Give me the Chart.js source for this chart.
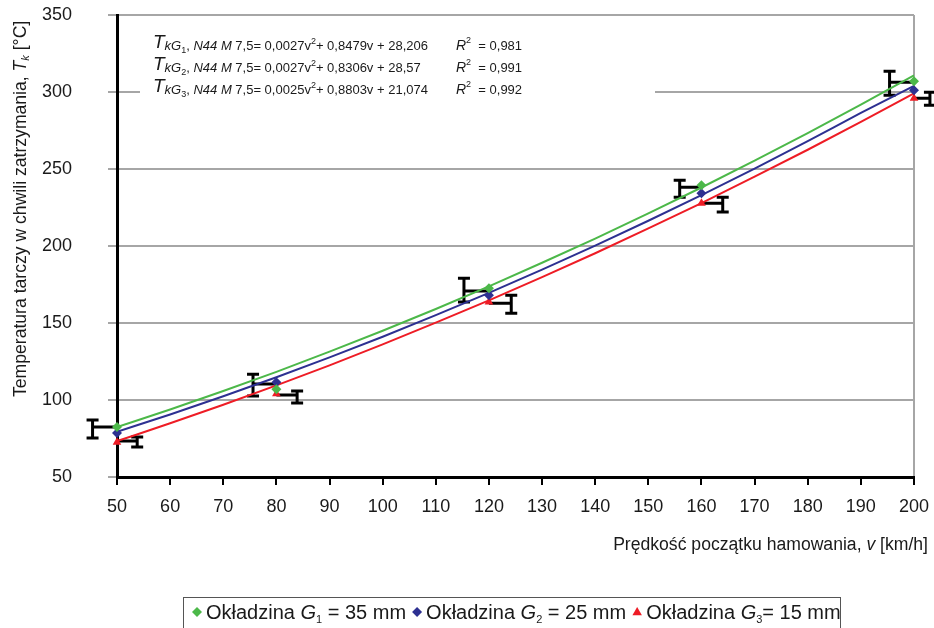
<!DOCTYPE html>
<html>
<head>
<meta charset="utf-8">
<script src="https://cdn.jsdelivr.net/npm/chart.js@4"></script>
<style>
  html, body { margin: 0; padding: 0; background: #fff; }
  #wrap { width: 934px; height: 628px; }
</style>
</head>
<body>
<div id="wrap"><canvas id="chart" width="934" height="628"></canvas></div>
<script>
// measured points (km/h -> °C)
const speeds = [50, 80, 120, 160, 200];
const tempG1 = [82.4, 107, 172.6, 239.5, 307];
const tempG2 = [78.6, 111.5, 168.1, 234.3, 301.2];
const tempG3 = [72.5, 104, 163.6, 227.8, 296];

// trend lines
const trendV = [50, 60, 70, 80, 90, 100, 110, 120, 130, 140, 150, 160, 170, 180, 190, 200];
const trendG1 = [82.4, 93.8, 105.8, 118.3, 131.4, 145.0, 159.1, 173.8, 189.1, 204.8, 221.2, 238.0, 255.4, 273.3, 291.8, 310.8];
const trendG2 = [79.4, 90.6, 102.4, 114.8, 127.7, 141.1, 155.1, 169.6, 184.7, 200.3, 216.4, 233.1, 250.3, 268.1, 286.4, 304.0];
const trendG3 = [73.3, 84.9, 96.9, 109.5, 122.5, 136.1, 150.2, 164.7, 179.8, 195.3, 211.4, 227.9, 245.0, 262.5, 280.6, 299.1];

// error bars: whisker to the left and to the right of each speed
const errLeftX = [45.4, 75.6, 115.3, 155.9, 195.4];
const errLeftY = [82.4, 110.4, 170.7, 238.2, 306.3];
const errLeftLow = [75.3, 102.6, 163.6, 231.7, 297.9];
const errLeftHigh = [87, 116.8, 179.1, 242.7, 313.5];
const errRightX = [53.8, 83.9, 124.2, 164, 203];
const errRightY = [73.4, 103.2, 162.9, 227.8, 296];
const errRightLow = [69.5, 98, 156.4, 222, 291.4];
const errRightHigh = [76, 105.8, 168.1, 231.7, 299.8];

// axis ticks
const speedTicks = [50, 60, 70, 80, 90, 100, 110, 120, 130, 140, 150, 160, 170, 180, 190, 200];
const tempTicks = [50, 100, 150, 200, 250, 300, 350];

// trend equations
const eqA = ['0,0027', '0,0027', '0,0025'];
const eqB = ['0,8479', '0,8306', '0,8803'];
const eqC = ['28,206', '28,57', '21,074'];
const eqR2 = ['0,981', '0,991', '0,992'];

const seriesNames = ['Okładzina G1 = 35 mm', 'Okładzina G2 = 25 mm', 'Okładzina G3 = 15 mm'];
const seriesThick = ['35', '25', '15'];

const GREEN = '#4cb849';
const BLUE = '#2d3091';
const RED = '#ee1c25';
const FONT = '"Liberation Sans", Arial, Helvetica, sans-serif';

function pts(xs, ys) {
  return xs.map((v, i) => ({ x: v, y: ys[i] }));
}

// draws a list of text pieces one after another
function richText(ctx, runs, x, y) {
  runs.forEach(r => {
    ctx.font = (r.i ? 'italic ' : '') + r.s + 'px ' + FONT;
    ctx.fillText(r.t, x, y + (r.dy || 0));
    x += ctx.measureText(r.t).width;
  });
  return x;
}
function runsWidth(ctx, runs) {
  let w = 0;
  runs.forEach(r => {
    ctx.font = (r.i ? 'italic ' : '') + r.s + 'px ' + FONT;
    w += ctx.measureText(r.t).width;
  });
  return w;
}

function marker(ctx, kind, color, x, y, r) {
  ctx.fillStyle = color;
  ctx.beginPath();
  if (kind === 'tri') {
    ctx.moveTo(x, y - r);
    ctx.lineTo(x + r * 0.95, y + r * 0.65);
    ctx.lineTo(x - r * 0.95, y + r * 0.65);
  } else {
    ctx.moveTo(x, y - r);
    ctx.lineTo(x + r, y);
    ctx.lineTo(x, y + r);
    ctx.lineTo(x - r, y);
  }
  ctx.closePath();
  ctx.fill();
}

const decorations = {
  id: 'decorations',
  beforeDatasetsDraw(chart) {
    const { ctx, scales: { x, y } } = chart;
    ctx.save();
    // white box behind the equations hides the grid
    ctx.fillStyle = '#fff';
    ctx.fillRect(140, 26, 515, 74);

    ctx.strokeStyle = '#000';
    ctx.lineWidth = 3;
    const bar = (v, yv, xe, lo, hi) => {
      const px0 = x.getPixelForValue(v);
      const py = y.getPixelForValue(yv);
      const pxe = x.getPixelForValue(xe);
      const pl = y.getPixelForValue(lo);
      const ph = y.getPixelForValue(hi);
      ctx.beginPath();
      ctx.moveTo(px0, py); ctx.lineTo(pxe, py);
      ctx.moveTo(pxe, pl); ctx.lineTo(pxe, ph);
      ctx.moveTo(pxe - 6, pl); ctx.lineTo(pxe + 6, pl);
      ctx.moveTo(pxe - 6, ph); ctx.lineTo(pxe + 6, ph);
      ctx.stroke();
    };
    speeds.forEach((v, i) => {
      bar(v, errLeftY[i], errLeftX[i], errLeftLow[i], errLeftHigh[i]);
      bar(v, errRightY[i], errRightX[i], errRightLow[i], errRightHigh[i]);
    });
    ctx.restore();
  },
  afterDatasetsDraw(chart) {
    const ctx = chart.ctx;
    ctx.save();
    ctx.fillStyle = '#1a1a1a';
    ctx.textBaseline = 'alphabetic';
    ctx.textAlign = 'left';

    // equations
    const base = [50, 72, 94];
    for (let i = 0; i < 3; i++) {
      const b = base[i];
      richText(ctx, [
        { t: 'T', s: 19, i: 1, dy: -2 },
        { t: 'kG', s: 13, i: 1 },
        { t: String(i + 1), s: 9, dy: 3 },
        { t: ', ', s: 13 },
        { t: 'N44 M', s: 13, i: 1 },
        { t: ' 7,5= ' + eqA[i] + 'v', s: 13 },
        { t: '2', s: 9, dy: -6 },
        { t: '+ ' + eqB[i] + 'v + ' + eqC[i], s: 13 }
      ], 153, b);
      richText(ctx, [
        { t: 'R', s: 14, i: 1 },
        { t: '2', s: 9, dy: -7 },
        { t: '  = ' + eqR2[i], s: 13 }
      ], 456, b);
    }

    // y axis title
    ctx.save();
    ctx.translate(26, 397);
    ctx.rotate(-Math.PI / 2);
    richText(ctx, [
      { t: 'Temperatura tarczy w chwili zatrzymania, ', s: 17.6 },
      { t: 'T', s: 17.6, i: 1 },
      { t: 'k', s: 11, i: 1, dy: 3 },
      { t: ' [°C]', s: 17.6 }
    ], 0, 0);
    ctx.restore();

    // x axis title
    const xt = [
      { t: 'Prędkość początku hamowania, ', s: 17.6 },
      { t: 'v', s: 17.6, i: 1 },
      { t: ' [km/h]', s: 17.6 }
    ];
    richText(ctx, xt, 928 - runsWidth(ctx, xt), 550);

    // legend
    ctx.strokeStyle = '#555';
    ctx.lineWidth = 1;
    ctx.strokeRect(183.5, 597.5, 657, 40);
    const kinds = ['dia', 'dia', 'tri'];
    const cols = [GREEN, BLUE, RED];
    let lx = 197;
    for (let i = 0; i < 3; i++) {
      marker(ctx, kinds[i], cols[i], lx, 612, 5);
      ctx.fillStyle = '#1a1a1a';
      const runs = [
        { t: 'Okładzina ', s: 20 },
        { t: 'G', s: 20, i: 1 },
        { t: String(i + 1), s: 11, dy: 4 },
        { t: (i === 2 ? '= ' : ' = ') + seriesThick[i] + ' mm', s: 20 }
      ];
      const end = richText(ctx, runs, lx + 9, 619);
      lx = end + 11;
    }
    ctx.restore();
  }
};

const ctx = document.getElementById('chart').getContext('2d');
new Chart(ctx, {
  type: 'scatter',
  data: {
    datasets: [
      { label: seriesNames[0], data: pts(speeds, tempG1), pointStyle: 'rectRot', pointRadius: 5, backgroundColor: GREEN, borderColor: GREEN, borderWidth: 0, clip: false },
      { label: seriesNames[1], data: pts(speeds, tempG2), pointStyle: 'rectRot', pointRadius: 5, backgroundColor: BLUE, borderColor: BLUE, borderWidth: 0, clip: false },
      { label: seriesNames[2], data: pts(speeds, tempG3), pointStyle: 'triangle', pointRadius: 5, backgroundColor: RED, borderColor: RED, borderWidth: 0, clip: false },
      { label: 'trend G1', data: pts(trendV, trendG1), showLine: true, pointRadius: 0, borderColor: GREEN, borderWidth: 2, cubicInterpolationMode: 'monotone' },
      { label: 'trend G2', data: pts(trendV, trendG2), showLine: true, pointRadius: 0, borderColor: BLUE, borderWidth: 2, cubicInterpolationMode: 'monotone' },
      { label: 'trend G3', data: pts(trendV, trendG3), showLine: true, pointRadius: 0, borderColor: RED, borderWidth: 2, cubicInterpolationMode: 'monotone' }
    ]
  },
  options: {
    responsive: false,
    animation: false,
    layout: { padding: { left: 0, top: 15, right: 20, bottom: 0 } },
    plugins: {
      legend: { display: false },
      tooltip: { enabled: false }
    },
    scales: {
      x: {
        type: 'linear',
        min: 50,
        max: 200,
        afterBuildTicks: s => { s.ticks = speedTicks.map(v => ({ value: v })); },
        afterFit: s => { s.height = 151; s.paddingLeft = 0; s.paddingRight = 0; },
        grid: {
          color: c => (c.tick && c.tick.value === 200 ? '#a6a6a6' : 'rgba(0,0,0,0)'),
          lineWidth: 2,
          tickColor: '#000',
          tickWidth: 2,
          tickLength: 8
        },
        border: { display: true, color: '#000', width: 3 },
        ticks: { color: '#1a1a1a', font: { family: FONT, size: 18 }, padding: 11, maxRotation: 0 }
      },
      y: {
        type: 'linear',
        min: 50,
        max: 350,
        afterBuildTicks: s => { s.ticks = tempTicks.map(v => ({ value: v })); },
        afterFit: s => { s.width = 117; s.paddingTop = 0; s.paddingBottom = 0; },
        grid: {
          color: '#a6a6a6',
          lineWidth: 2,
          tickColor: '#a6a6a6',
          tickLength: 9
        },
        border: { display: true, color: '#000', width: 3 },
        ticks: { color: '#1a1a1a', font: { family: FONT, size: 18 }, padding: 36 }
      }
    }
  },
  plugins: [decorations]
});
</script>
</body>
</html>
